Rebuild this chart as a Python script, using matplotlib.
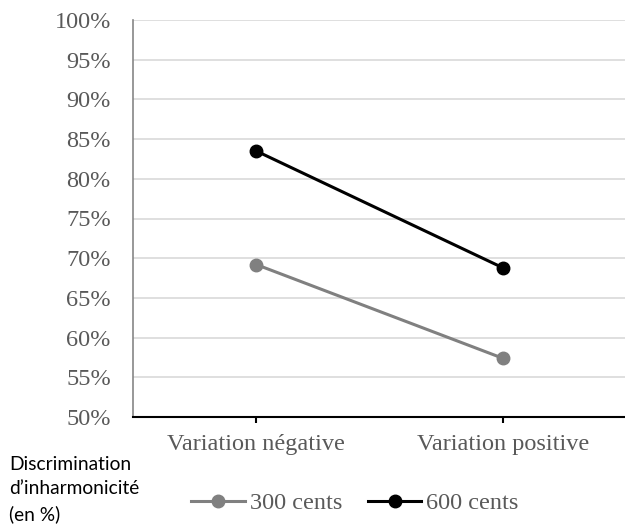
import matplotlib.pyplot as plt
from matplotlib.ticker import FuncFormatter

# Data
categories = ["Variation négative", "Variation positive"]
series_names = ["300 cents", "600 cents"]
values_300 = [69.2, 57.4]
values_600 = [83.5, 68.8]
y_ticks = list(range(50, 101, 5))

serif = "Liberation Serif"
grey_txt = "#595959"

fig = plt.figure(figsize=(6.25, 5.25), dpi=100)
ax = fig.add_axes([133 / 625, 108 / 525, 493 / 625, 397 / 525])

x = list(range(len(categories)))
l1, = ax.plot(x, values_300, color="#808080", lw=2.2, marker="o", ms=9, label=series_names[0])
l2, = ax.plot(x, values_600, color="#000000", lw=2.2, marker="o", ms=9, label=series_names[1])

ax.set_xlim(-0.5, 1.5)
ax.set_ylim(50, 100)
ax.set_yticks(y_ticks)
ax.yaxis.set_major_formatter(FuncFormatter(lambda v, p: "%d%%" % v))
ax.grid(axis="y", color="#d9d9d9", lw=1.2)
ax.set_axisbelow(True)

for s in ["top", "right"]:
    ax.spines[s].set_visible(False)
ax.spines["left"].set_color("#868686")
ax.spines["left"].set_linewidth(1.2)
ax.spines["bottom"].set_color("#000000")
ax.spines["bottom"].set_linewidth(1.5)

ax.set_xticks(x)
ax.set_xticklabels(categories, fontfamily=serif, fontsize=17.5, color=grey_txt)
ax.tick_params(axis="x", length=4, width=1.5, direction="out", pad=8)
ax.tick_params(axis="y", length=0, pad=16)
for lab in ax.get_yticklabels():
    lab.set_fontfamily(serif)
    lab.set_fontsize(17.5)
    lab.set_color(grey_txt)

fig.text(9 / 625, 1 - 456 / 525, "Discrimination\nd\u2019inharmonicité\n(en %)",
         fontfamily="Lato", fontsize=13.8, va="top", ha="left", linespacing=1.52)

fig.legend(handles=[l1, l2], loc="center", bbox_to_anchor=(355 / 625, 1 - 503 / 525),
           ncol=2, frameon=False, handlelength=2.2, handletextpad=0.2, columnspacing=1.07,
           prop={"family": serif, "size": 17.5}, labelcolor=grey_txt)

fig.savefig("out.png", dpi=100)
